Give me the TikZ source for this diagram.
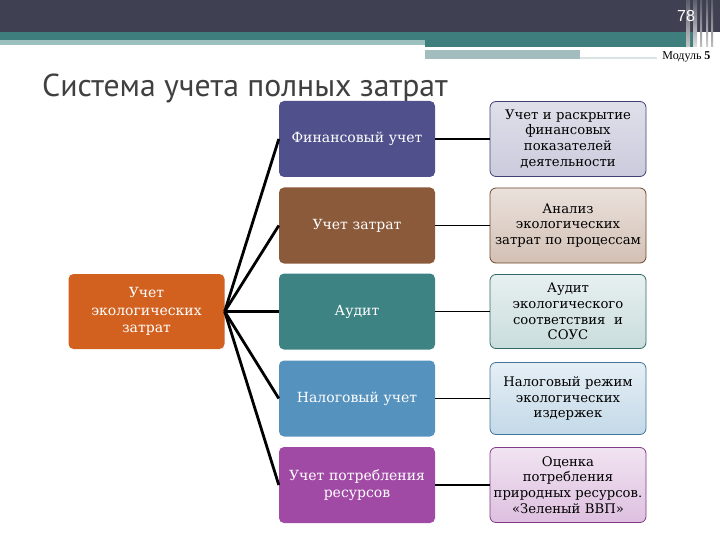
\documentclass[tikz,border=0pt]{standalone}
\usepackage{fontspec}
\setmainfont{DejaVu Serif}
\newfontfamily\titlefont{PT Sans}
\newfontfamily\numfont{Liberation Sans}
\newfontfamily\modfont{Liberation Serif}
\definecolor{hdark}{HTML}{3F4152}
\definecolor{hteal}{HTML}{3E7F7E}
\definecolor{hlight}{HTML}{9CC0BE}
\definecolor{hgray}{HTML}{A3BDBF}
\definecolor{corange}{HTML}{D2601E}
\definecolor{cone}{HTML}{50518C}
\definecolor{ctwo}{HTML}{8B5A3B}
\definecolor{cthree}{HTML}{3E8383}
\definecolor{cfour}{HTML}{5592BE}
\definecolor{cfive}{HTML}{A04AA6}
\begin{document}
\begin{tikzpicture}[x=1pt,y=-1pt,
  basebox/.style={rectangle, rounded corners=5pt, minimum width=152pt, minimum height=76pt,
    text width=156pt, align=center, inner sep=0pt},
  midbox/.style={basebox, text=white, font=\fontsize{14}{17.5}\selectfont},
  rbox/.style={basebox, text=black, line width=0.8pt, rounded corners=6pt, font=\fontsize{13.2}{15.8}\selectfont},
  fan/.style={line width=2.8pt, black},
  link/.style={line width=1.8pt, black},
  vbar/.style={top color=hdark!85!white, bottom color=#1}]
\useasboundingbox (0,0) rectangle (720,540);
\fill[white] (0,0) rectangle (720,540);
% header
\fill[hdark] (0,0) rectangle (720,32.5);
\fill[hteal] (0,32.5) rectangle (425,40.5);
\fill[hlight] (0,40.5) rectangle (425,45.5);
\fill[hteal] (425,32.5) rectangle (697,47);
\fill[hgray] (425,50) rectangle (580,59);
\fill[hgray!40] (580,57) rectangle (657,59);
\fill[vbar=gray!45] (686,0) rectangle (690,47);
\fill[vbar=gray!25] (693,0) rectangle (697,47);
\fill[vbar=gray!50] (700,0) rectangle (702,47);
\fill[vbar=gray!35] (706,0) rectangle (708,47);
\fill[vbar=gray!50] (711,0) rectangle (713,47);
\node[text=white, font=\numfont\fontsize{16}{16}\selectfont] (pnum) at (686,16) {78};
\node[anchor=east, font=\modfont\fontsize{12}{12}\selectfont] (modul) at (714,57) {Модуль \textbf{5}};
% title
\node[anchor=west, text=black!75, font=\titlefont\fontsize{31.7}{32}\selectfont, inner sep=0pt] (title) at (42,88) {Система учета полных затрат};
% left box
\node[midbox, fill=corange, minimum width=151pt, minimum height=75pt] (L) at (146.5,311.5) {Учет\\ экологических\\ затрат};
% middle boxes
\node[midbox, fill=cone]   (M1) at (357,139)   {Финансовый учет};
\node[midbox, fill=ctwo]   (M2) at (357,225.5) {Учет затрат};
\node[midbox, fill=cthree] (M3) at (357,311.5) {Аудит};
\node[midbox, fill=cfour]  (M4) at (357,398.5) {Налоговый учет};
\node[midbox, fill=cfive]  (M5) at (357,485)   {Учет потребления\\ ресурсов};
% right boxes
\node[rbox, draw=cone!80!black, top color=cone!18, bottom color=cone!30, minimum height=75pt] (R1) at (568,139) {Учет и раскрытие\\ финансовых\\ показателей\\ деятельности};
\node[rbox, draw=ctwo!80!black, top color=ctwo!18, bottom color=ctwo!38, minimum height=75pt] (R2) at (568,225.5) {Анализ\\ экологических\\ затрат по процессам};
\node[rbox, draw=cthree!80!black, top color=cthree!12, bottom color=cthree!28, minimum height=74pt] (R3) at (568,311.5) {Аудит\\ экологического\\ соответствия \ и\\ СОУС};
\node[rbox, draw=cfour!80!black, top color=cfour!15, bottom color=cfour!35, minimum height=72pt] (R4) at (568,398.5) {Налоговый режим\\ экологических\\ издержек};
\node[rbox, draw=cfive!80!black, top color=cfive!15, bottom color=cfive!35, minimum height=75pt] (R5) at (568,485) {Оценка\\ потребления\\ природных ресурсов.\\ «Зеленый ВВП»};
% connectors
\foreach \m in {M1,M2,M3,M4,M5} \draw[fan] (L.east) -- (\m.west);
\draw[link] (M1.east) -- (R1.west);
\draw[link] (M2.east) -- (R2.west);
\draw[link] (M3.east) -- (R3.west);
\draw[link] (M4.east) -- (R4.west);
\draw[link] (M5.east) -- (R5.west);
\end{tikzpicture}
\end{document}
